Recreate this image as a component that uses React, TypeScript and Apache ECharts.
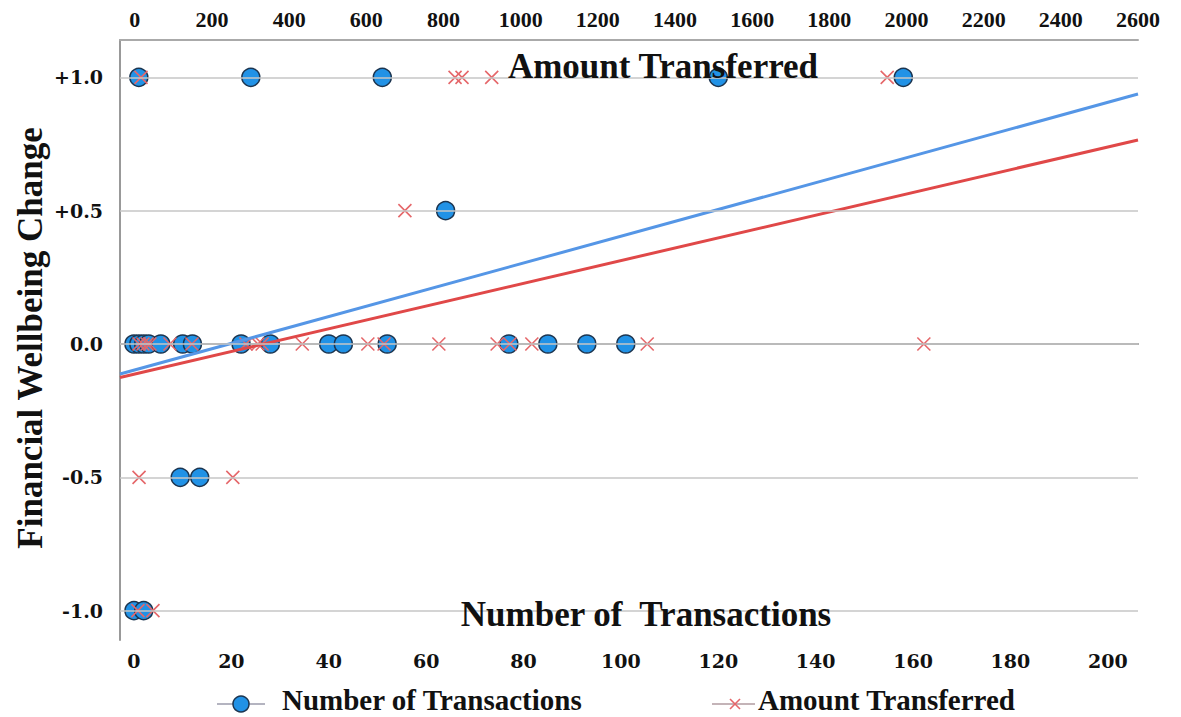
import React, { useEffect, useRef } from "react";
import * as echarts from "echarts";

// Number of Transactions (bottom axis) grouped by wellbeing change
const txPlus1 = [1, 24, 51, 120, 158];
const txPlusHalf = [64];
const txZero = [0, 1, 2, 3, 5.5, 10, 12, 22, 28, 40, 43, 52, 77, 85, 93, 101];
const txMinusHalf = [9.5, 13.5];
const txMinus1 = [0, 2];

// Amount Transferred (top axis) grouped by wellbeing change
const amtPlus1 = [16, 830, 848, 925, 1950];
const amtPlusHalf = [700];
const amtZero = [11, 21, 32, 39, 91, 148, 288, 319, 330, 434, 604, 646, 788, 939, 972, 1029, 1328, 2045];
const amtMinusHalf = [11, 254];
const amtMinus1 = [8, 47];

const changeLevels = [1, 0.5, 0, -0.5, -1];
const yTicks = [-1, -0.5, 0, 0.5, 1];
const bottomTicks = [0, 20, 40, 60, 80, 100, 120, 140, 160, 180, 200];
const topTicks = [0, 200, 400, 600, 800, 1000, 1200, 1400, 1600, 1800, 2000, 2200, 2400, 2600];

// Fitted regression lines (endpoints)
const txFit = [[-2.87, -0.1125], [206.2, 0.9374]];
const amtFit = [[-38.4, -0.1256], [2600, 0.7653]];

const BLUE = "#2192e6";
const RED = "#e5676a";
const SERIF = "'Liberation Serif', 'Times New Roman', serif";

export default function App() {
  const ref = useRef<HTMLDivElement>(null);
  useEffect(() => {
    if (!ref.current) return;
    const chart = echarts.init(ref.current, null, { renderer: "svg" });
    const txGroups = [txPlus1, txPlusHalf, txZero, txMinusHalf, txMinus1];
    const amtGroups = [amtPlus1, amtPlusHalf, amtZero, amtMinusHalf, amtMinus1];
    const txData: number[][] = [];
    txGroups.forEach((g, i) => g.forEach((v) => txData.push([v, changeLevels[i]])));
    const amtData: number[][] = [];
    amtGroups.forEach((g, i) => g.forEach((v) => amtData.push([v, changeLevels[i]])));

    const tickFont = {
      fontFamily: "'DejaVu Serif', serif",
      fontWeight: "bold" as const,
      fontSize: 19,
      color: "#111",
    };

    chart.setOption({
      animation: false,
      backgroundColor: "#fff",
      grid: { left: 120, right: 1181 - 1138, top: 40, bottom: 717 - 640 },
      xAxis: [
        {
          type: "value",
          position: "bottom",
          min: -2.87,
          max: 206.2,
          axisLine: { show: true, lineStyle: { color: "#999", width: 2 } },
          axisTick: { show: false },
          splitLine: { show: false },
          axisLabel: { ...tickFont, margin: 11, customValues: bottomTicks, formatter: (v: number) => String(v) },
        },
        {
          type: "value",
          position: "top",
          min: -38.4,
          max: 2600,
          axisLine: { show: true, onZero: false, lineStyle: { color: "#aaa", width: 2 } },
          axisTick: { show: false },
          splitLine: { show: false },
          axisLabel: {
            fontFamily: SERIF,
            fontWeight: "bold",
            fontSize: 22,
            color: "#111",
            margin: 10,
            customValues: topTicks,
            formatter: (v: number) => String(v),
          },
        },
      ],
      yAxis: {
        type: "value",
        min: -1.11,
        max: 1.14,
        axisLine: { show: true, onZero: false, lineStyle: { color: "#999", width: 2 } },
        axisTick: { show: false },
        splitLine: { show: false },
        axisLabel: {
          ...tickFont,
          margin: 17,
          customValues: yTicks,
          formatter: (v: number) => (v > 0 ? "+" + v.toFixed(1) : v.toFixed(1)),
        },
      },
      series: [
        {
          name: "grid",
          type: "line",
          data: [],
          z: 1,
          silent: true,
          markLine: {
            silent: true,
            symbol: "none",
            label: { show: false },
            lineStyle: { color: "#c6c6c6", width: 1.5, type: "solid" },
            data: yTicks.map((t) => ({ yAxis: t })),
          },
        },
        {
          name: "Number of Transactions",
          type: "scatter",
          xAxisIndex: 0,
          z: 2,
          symbol: "circle",
          symbolSize: 18,
          itemStyle: { color: BLUE, borderColor: "#1c3550", borderWidth: 1.5, opacity: 1 },
          data: txData,
        },
        {
          name: "Amount Transferred",
          type: "scatter",
          xAxisIndex: 1,
          z: 3,
          symbol: "path://M0,0L10,10M10,0L0,10",
          symbolSize: 13,
          itemStyle: { color: "none", borderColor: RED, borderWidth: 1.6, opacity: 1 },
          data: amtData,
        },
        {
          name: "txFit",
          type: "line",
          xAxisIndex: 0,
          z: 4,
          symbol: "none",
          lineStyle: { color: "#5596e6", width: 3 },
          data: txFit,
        },
        {
          name: "amtFit",
          type: "line",
          xAxisIndex: 1,
          z: 4,
          symbol: "none",
          lineStyle: { color: "#e04848", width: 3 },
          data: amtFit,
        },
      ],
      graphic: [
        {
          type: "text",
          x: 30,
          y: 338,
          rotation: Math.PI / 2,
          style: {
            text: "Financial Wellbeing Change",
            font: `bold 35px ${SERIF}`,
            fill: "#111",
            textAlign: "center",
            textVerticalAlign: "middle",
          },
        },
        {
          type: "text",
          x: 663,
          y: 66,
          z: 10,
          style: {
            text: "Amount Transferred",
            font: `bold 35px ${SERIF}`,
            fill: "#111",
            textAlign: "center",
            textVerticalAlign: "middle",
          },
        },
        {
          type: "text",
          x: 646,
          y: 614,
          z: 10,
          style: {
            text: "Number of  Transactions",
            font: `bold 35px ${SERIF}`,
            fill: "#111",
            textAlign: "center",
            textVerticalAlign: "middle",
          },
        },
        // legend
        { type: "line", shape: { x1: 217, y1: 704, x2: 265, y2: 704 }, style: { stroke: "#b4b4c0", lineWidth: 2 } },
        { type: "circle", shape: { cx: 241, cy: 704, r: 8 }, style: { fill: BLUE, stroke: "#1c3550", lineWidth: 1.5 } },
        {
          type: "text",
          x: 282,
          y: 700,
          style: { text: "Number of Transactions", font: `bold 29px ${SERIF}`, fill: "#111", textAlign: "left", textVerticalAlign: "middle" },
        },
        { type: "line", shape: { x1: 712, y1: 704, x2: 755, y2: 704 }, style: { stroke: "#c4b4b8", lineWidth: 2 } },
        { type: "line", shape: { x1: 730, y1: 699, x2: 740, y2: 709 }, style: { stroke: RED, lineWidth: 1.6 } },
        { type: "line", shape: { x1: 740, y1: 699, x2: 730, y2: 709 }, style: { stroke: RED, lineWidth: 1.6 } },
        {
          type: "text",
          x: 758,
          y: 700,
          style: { text: "Amount Transferred", font: `bold 29px ${SERIF}`, fill: "#111", textAlign: "left", textVerticalAlign: "middle" },
        },
      ],
    });
    return () => chart.dispose();
  }, []);
  return (
    <div
      ref={ref}
      style={{ position: "absolute", left: 0, top: 0, width: 1181, height: 717, background: "#fff" }}
    />
  );
}
